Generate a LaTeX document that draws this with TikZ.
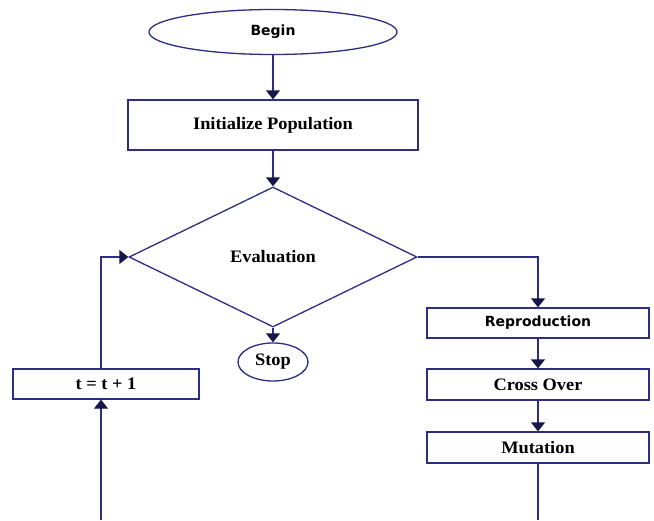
\documentclass[tikz,border=0pt]{standalone}
\usepackage{fontspec}
\setmainfont{Liberation Serif}[FakeStretch=1.05]
\newfontfamily\begfont{DejaVu Sans}
\usetikzlibrary{shapes.geometric,arrows.meta}
\definecolor{navy}{RGB}{45,45,130}
\definecolor{tipcol}{RGB}{22,22,75}
\tikzset{
  shp/.style={draw=navy, line width=1.3pt, fill=white, inner sep=0pt, text=black},
  boxnode/.style={shp, rectangle},
  ovalnode/.style={shp, ellipse},
  decnode/.style={shp, diamond},
  serif/.style={font=\fontsize{17.5}{19}\selectfont\bfseries},
  sans/.style={font=\begfont\fontsize{14}{16}\selectfont\bfseries},
  arr/.style={draw=navy, line width=1.3pt, -{Triangle[width=14pt,length=9pt,fill=tipcol,color=tipcol]}},
  ln/.style={draw=navy, line width=1.3pt}
}
\begin{document}
\begin{tikzpicture}[x=1pt,y=-1pt]
\path[use as bounding box, fill=white] (0,0) rectangle (654,520);
\node[ovalnode, sans, minimum width=248pt, minimum height=45pt] (begin) at (273,32) {Begin};
\node[boxnode, serif, minimum width=290pt, minimum height=50pt] (init) at (273,125) {Initialize Population};
\node[decnode, serif, minimum width=288pt, minimum height=140pt] (eval) at (273,257) {Evaluation};
\node[ovalnode, serif, minimum width=70pt, minimum height=38pt] (stop) at (273,362) {Stop};
\node[boxnode, serif, minimum width=186pt, minimum height=30pt] (tbox) at (106,384) {t = t + 1};
\node[boxnode, sans, minimum width=222pt, minimum height=30pt] (rep) at (538,323) {Reproduction};
\node[boxnode, serif, minimum width=222pt, minimum height=31pt] (cross) at (538,384.5) {Cross Over};
\node[boxnode, serif, minimum width=222pt, minimum height=31pt] (mut) at (538,447.5) {Mutation};
\coordinate (bl) at (101,520);
\coordinate (br) at (538,520);
\draw[arr] (begin.south) -- (init.north);
\draw[arr] (init.south) -- (eval.north);
\draw[arr] (eval.south) -- (stop.north);
\draw[arr] (eval.east) -| (rep.north);
\draw[arr] (rep.south) -- (cross.north);
\draw[arr] (cross.south) -- (mut.north);
\draw[ln] (mut.south) -- (br);
\draw[arr] (bl) -- (bl |- tbox.south);
\draw[arr] (bl |- tbox.north) |- (eval.west);
\end{tikzpicture}
\end{document}
